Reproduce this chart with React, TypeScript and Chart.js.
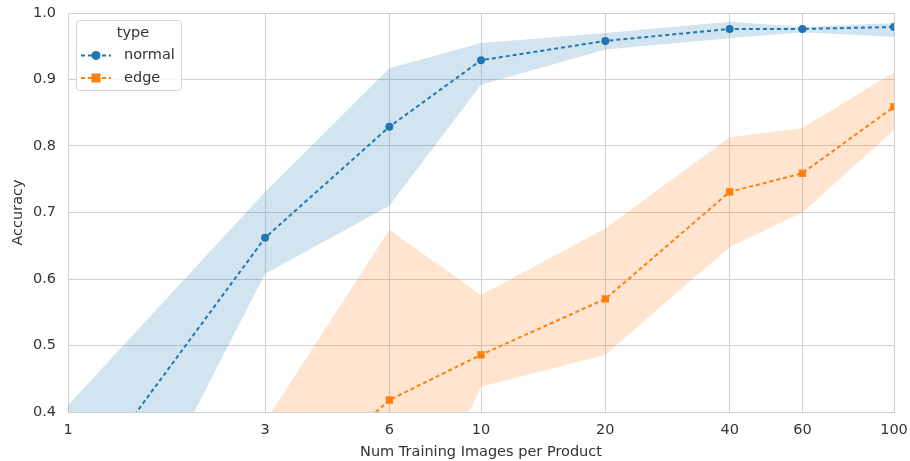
import React, { useEffect, useRef } from "react";
import { Chart, registerables } from "chart.js";

Chart.register(...registerables);

// ---- data ----
const xValues = [1, 3, 6, 10, 20, 40, 60, 100];
const normalMean = [0.26, 0.662, 0.829, 0.929, 0.958, 0.976, 0.976, 0.979];
const normalLow = [0.03, 0.608, 0.71, 0.892, 0.945, 0.962, 0.971, 0.964];
const normalHigh = [0.41, 0.731, 0.917, 0.955, 0.97, 0.987, 0.979, 0.985];
const edgeMean = [0.12, 0.25, 0.418, 0.486, 0.57, 0.731, 0.759, 0.859];
const edgeLow = [0.0, 0.12, 0.146, 0.438, 0.486, 0.648, 0.7, 0.824];
const edgeHigh = [0.3, 0.385, 0.674, 0.576, 0.676, 0.813, 0.827, 0.911];
const xTicks = [1, 3, 6, 10, 20, 40, 60, 100];
const yTicks = [0.4, 0.5, 0.6, 0.7, 0.8, 0.9, 1.0];
const seriesNames = ["normal", "edge"];
const legendTitle = "type";
const xTitle = "Num Training Images per Product";
const yTitle = "Accuracy";

const BLUE = "#1f77b4";
const ORANGE = "#ff7f0e";
const BLUE_BAND = "rgba(31,119,180,0.2)";
const ORANGE_BAND = "rgba(255,127,14,0.2)";
const GRID = "#d0d0d0";
const TEXT = "#333333";
const FONT_FAMILY = "'DejaVu Sans', sans-serif";
const FONT_SIZE = 14.5;

const pts = (ys: number[]) => xValues.map((x, i) => ({ x, y: ys[i] }));

const legendPlugin = {
  id: "customLegend",
  afterDraw(chart: any) {
    const ctx = chart.ctx as CanvasRenderingContext2D;
    ctx.save();
    const bx = 76.5, by = 20.5, bw = 105, bh = 70, r = 3;
    ctx.beginPath();
    ctx.moveTo(bx + r, by);
    ctx.lineTo(bx + bw - r, by);
    ctx.quadraticCurveTo(bx + bw, by, bx + bw, by + r);
    ctx.lineTo(bx + bw, by + bh - r);
    ctx.quadraticCurveTo(bx + bw, by + bh, bx + bw - r, by + bh);
    ctx.lineTo(bx + r, by + bh);
    ctx.quadraticCurveTo(bx, by + bh, bx, by + bh - r);
    ctx.lineTo(bx, by + r);
    ctx.quadraticCurveTo(bx, by, bx + r, by);
    ctx.closePath();
    ctx.fillStyle = "rgba(255,255,255,0.8)";
    ctx.fill();
    ctx.strokeStyle = "#d6d6d6";
    ctx.lineWidth = 1;
    ctx.stroke();

    ctx.font = `${FONT_SIZE}px ${FONT_FAMILY}`;
    ctx.fillStyle = TEXT;
    ctx.textBaseline = "alphabetic";
    ctx.textAlign = "center";
    ctx.fillText(legendTitle, 133, 36.5);
    ctx.textAlign = "left";

    const rows = [
      { name: seriesNames[0], color: BLUE, y: 55.5, shape: "circle", baseline: 58.5 },
      { name: seriesNames[1], color: ORANGE, y: 78, shape: "square", baseline: 81.5 },
    ];
    rows.forEach((row) => {
      ctx.strokeStyle = row.color;
      ctx.lineWidth = 2;
      ctx.setLineDash([4, 3]);
      ctx.beginPath();
      ctx.moveTo(81, row.y);
      ctx.lineTo(111, row.y);
      ctx.stroke();
      ctx.setLineDash([]);
      ctx.fillStyle = row.color;
      ctx.beginPath();
      if (row.shape === "circle") {
        ctx.arc(96, row.y, 4.5, 0, Math.PI * 2);
      } else {
        ctx.rect(91.5, row.y - 4.5, 9, 9);
      }
      ctx.fill();
      ctx.fillStyle = TEXT;
      ctx.fillText(row.name, 124, row.baseline);
    });
    ctx.restore();
  },
};

export default function App() {
  const ref = useRef<HTMLCanvasElement | null>(null);

  useEffect(() => {
    if (!ref.current) return;
    const font = { family: FONT_FAMILY, size: FONT_SIZE };
    const band = (ys: number[], color: string, fill: any) => ({
      data: pts(ys),
      borderWidth: 0,
      borderColor: "rgba(0,0,0,0)",
      backgroundColor: color,
      pointRadius: 0,
      fill,
      tension: 0,
      clip: 0,
    });
    const chart = new Chart(ref.current, {
      type: "line",
      data: {
        datasets: [
          band(normalHigh, BLUE_BAND, "+1"),
          band(normalLow, BLUE_BAND, false),
          band(edgeHigh, ORANGE_BAND, "+1"),
          band(edgeLow, ORANGE_BAND, false),
          {
            label: seriesNames[0],
            data: pts(normalMean),
            borderColor: BLUE,
            backgroundColor: BLUE,
            borderWidth: 2,
            borderDash: [4, 3],
            pointStyle: "circle",
            pointRadius: 4,
            pointBorderWidth: 0,
            fill: false,
            tension: 0,
            clip: 0,
          },
          {
            label: seriesNames[1],
            data: pts(edgeMean),
            borderColor: ORANGE,
            backgroundColor: ORANGE,
            borderWidth: 2,
            borderDash: [4, 3],
            pointStyle: "rect",
            pointRadius: 5.2,
            pointBorderWidth: 0,
            fill: false,
            tension: 0,
            clip: 0,
          },
        ] as any,
      },
      options: {
        animation: false,
        responsive: false,
        events: [],
        layout: { padding: { top: 13, right: 16, left: 0, bottom: 0 } },
        plugins: {
          legend: { display: false },
          tooltip: { enabled: false },
        },
        scales: {
          x: {
            type: "logarithmic",
            min: 1,
            max: 100,
            afterBuildTicks: (s: any) => {
              s.ticks = xTicks.map((v) => ({ value: v }));
            },
            afterFit: (s: any) => {
              s.height = 49;
              s.paddingLeft = 0;
              s.paddingRight = 0;
            },
            ticks: {
              callback: (v: any) => String(v),
              autoSkip: false,
              maxRotation: 0,
              padding: 10,
              font,
              color: TEXT,
            },
            grid: { color: GRID, lineWidth: 1, drawTicks: false },
            border: { color: GRID, width: 1 },
            title: {
              display: true,
              text: xTitle,
              font,
              color: TEXT,
              padding: { top: 0, bottom: 0 },
            },
          },
          y: {
            type: "linear",
            min: 0.4,
            max: 1.0,
            afterBuildTicks: (s: any) => {
              s.ticks = yTicks.map((v) => ({ value: v }));
            },
            afterFit: (s: any) => {
              s.width = 68;
              s.paddingTop = 0;
              s.paddingBottom = 0;
            },
            ticks: {
              callback: (v: any) => Number(v).toFixed(1),
              padding: 12,
              font,
              color: TEXT,
            },
            grid: { color: GRID, lineWidth: 1, drawTicks: false },
            border: { color: GRID, width: 1 },
            title: {
              display: true,
              text: yTitle,
              font,
              color: TEXT,
              padding: { top: 10, bottom: 0 },
            },
          },
        },
      } as any,
      plugins: [legendPlugin],
    });
    return () => chart.destroy();
  }, []);

  return (
    <div style={{ position: "fixed", left: 0, top: 0, width: 910, height: 461, background: "#fff" }}>
      <canvas ref={ref} width={910} height={461} style={{ width: 910, height: 461 }} />
    </div>
  );
}
